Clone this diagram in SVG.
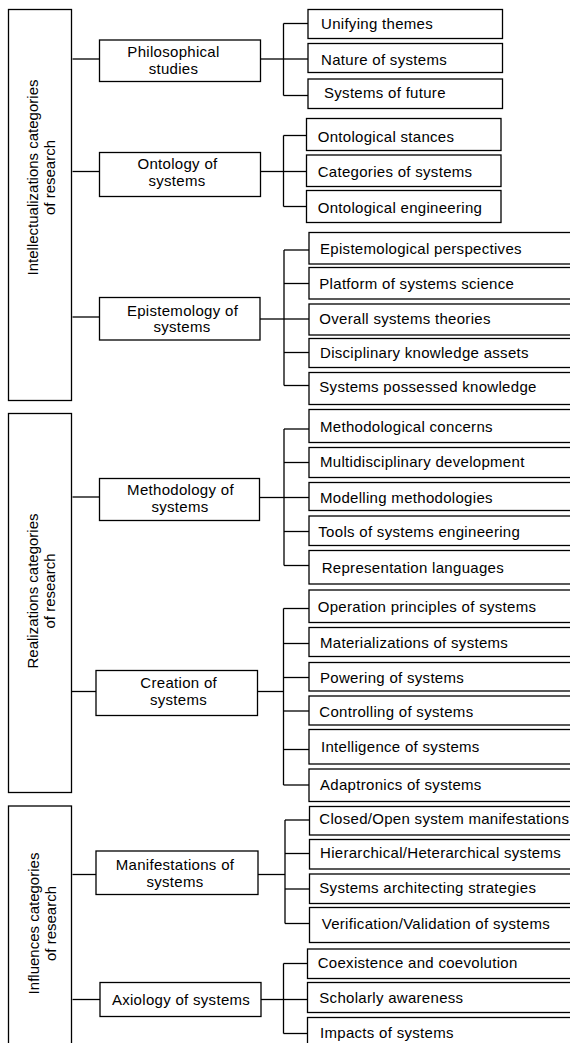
<svg xmlns="http://www.w3.org/2000/svg" width="570" height="1043" viewBox="0 0 570 1043">
<style>
rect{fill:#fff;stroke:#000;stroke-width:1.3}
.c line{stroke:#000;stroke-width:1.3}
text{font-family:"Liberation Sans",Arial,sans-serif;font-size:15px;fill:#000;letter-spacing:0.3px}
.m{text-anchor:middle}
.r{text-anchor:middle;letter-spacing:0}
</style>
<rect width="570" height="1043" style="stroke:none"/>
<g class="c" id="connectors">
<line x1="72.5" y1="59" x2="99.5" y2="59"/>
<line x1="72.5" y1="171.5" x2="99.5" y2="171.5"/>
<line x1="72.5" y1="317" x2="99.5" y2="317"/>
<line x1="72.5" y1="497" x2="99.5" y2="497"/>
<line x1="71.5" y1="691.5" x2="96" y2="691.5"/>
<line x1="72.5" y1="874.5" x2="96" y2="874.5"/>
<line x1="72.5" y1="999.5" x2="100" y2="999.5"/>
<line x1="260.5" y1="59" x2="283.5" y2="59"/>
<line x1="283.5" y1="23.5" x2="283.5" y2="95.5"/>
<line x1="283.5" y1="23.5" x2="308" y2="23.5"/>
<line x1="283.5" y1="59" x2="308" y2="59"/>
<line x1="283.5" y1="95.5" x2="308" y2="95.5"/>
<line x1="260.5" y1="171.5" x2="283.5" y2="171.5"/>
<line x1="283.5" y1="135.5" x2="283.5" y2="206.5"/>
<line x1="283.5" y1="135.5" x2="306.5" y2="135.5"/>
<line x1="283.5" y1="171.5" x2="306.5" y2="171.5"/>
<line x1="283.5" y1="206.5" x2="306.5" y2="206.5"/>
<line x1="260" y1="319" x2="284" y2="319"/>
<line x1="284" y1="250" x2="284" y2="385.5"/>
<line x1="284" y1="250" x2="309" y2="250"/>
<line x1="284" y1="283.5" x2="309" y2="283.5"/>
<line x1="284" y1="319" x2="309" y2="319"/>
<line x1="284" y1="352.5" x2="309" y2="352.5"/>
<line x1="284" y1="385.5" x2="309" y2="385.5"/>
<line x1="259.5" y1="497.5" x2="284" y2="497.5"/>
<line x1="284" y1="429" x2="284" y2="565.5"/>
<line x1="284" y1="429" x2="309" y2="429"/>
<line x1="284" y1="462.5" x2="309" y2="462.5"/>
<line x1="284" y1="497.5" x2="309" y2="497.5"/>
<line x1="284" y1="531.5" x2="309" y2="531.5"/>
<line x1="284" y1="565.5" x2="309" y2="565.5"/>
<line x1="257.5" y1="691.5" x2="283.5" y2="691.5"/>
<line x1="283.5" y1="608.5" x2="283.5" y2="785"/>
<line x1="283.5" y1="608.5" x2="309" y2="608.5"/>
<line x1="283.5" y1="643.5" x2="309" y2="643.5"/>
<line x1="283.5" y1="677.5" x2="309" y2="677.5"/>
<line x1="283.5" y1="711" x2="309" y2="711"/>
<line x1="283.5" y1="749.5" x2="309" y2="749.5"/>
<line x1="283.5" y1="785" x2="309" y2="785"/>
<line x1="258" y1="874.5" x2="285" y2="874.5"/>
<line x1="285" y1="820" x2="285" y2="923.5"/>
<line x1="285" y1="820" x2="309.5" y2="820"/>
<line x1="285" y1="853.5" x2="309.5" y2="853.5"/>
<line x1="285" y1="889" x2="309.5" y2="889"/>
<line x1="285" y1="923.5" x2="309.5" y2="923.5"/>
<line x1="261" y1="999.5" x2="283.5" y2="999.5"/>
<line x1="283.5" y1="963.5" x2="283.5" y2="1033.5"/>
<line x1="283.5" y1="963.5" x2="307.5" y2="963.5"/>
<line x1="283.5" y1="999.5" x2="307.5" y2="999.5"/>
<line x1="283.5" y1="1033.5" x2="307.5" y2="1033.5"/>
</g>
<g id="cat-intellectualizations"><rect x="8.5" y="9.5" width="63" height="391"/>
<text class="r" transform="translate(37.5,177.5) rotate(-90)">Intellectualizations categories</text>
<text class="r" transform="translate(54.5,177.5) rotate(-90)">of research</text></g>
<g id="cat-realizations"><rect x="8.5" y="413.5" width="63" height="379"/>
<text class="r" transform="translate(37.5,591) rotate(-90)">Realizations categories</text>
<text class="r" transform="translate(54.5,591) rotate(-90)">of research</text></g>
<g id="cat-influences"><rect x="8.5" y="806" width="63" height="250"/>
<text class="r" transform="translate(38.5,923.5) rotate(-90)">Influences categories</text>
<text class="r" transform="translate(55.5,923.5) rotate(-90)">of research</text></g>

<g id="philosophical"><rect x="99.5" y="40" width="161" height="41.5"/>
<text class="m" x="173.5" y="57.3">Philosophical</text><text class="m" x="173.5" y="74">studies</text></g>
<g id="ontology"><rect x="99.5" y="152.5" width="161" height="44"/>
<text class="m" x="177.5" y="169.3">Ontology of</text><text class="m" x="177" y="186.3">systems</text></g>
<g id="epistemology"><rect x="99.5" y="297.5" width="160.5" height="42.5"/>
<text class="m" x="182.5" y="315.7">Epistemology of</text><text class="m" x="182" y="332.3">systems</text></g>
<g id="methodology"><rect x="99.5" y="478.5" width="160" height="42"/>
<text class="m" x="180.5" y="495">Methodology of</text><text class="m" x="180" y="511.7">systems</text></g>
<g id="creation"><rect x="96" y="670.5" width="161.5" height="45"/>
<text class="m" x="178.7" y="688.3">Creation of</text><text class="m" x="178.5" y="705">systems</text></g>
<g id="manifestations"><rect x="96" y="851" width="162" height="43.5"/>
<text class="m" x="175" y="870">Manifestations of</text><text class="m" x="175" y="886.7">systems</text></g>
<g id="axiology"><rect x="100" y="982.5" width="161" height="34"/>
<text class="m" x="181" y="1005">Axiology of systems</text></g>

<g id="unifying"><rect x="308" y="9.5" width="194.5" height="29"/><text x="321" y="29">Unifying themes</text></g>
<g id="nature"><rect x="308" y="43.5" width="194.5" height="29"/><text x="321" y="65">Nature of systems</text></g>
<g id="future"><rect x="308" y="79" width="194.5" height="29.5"/><text x="324" y="98.3">Systems of future</text></g>
<g id="stances"><rect x="306.5" y="118.5" width="194.5" height="32"/><text x="317.7" y="142.3">Ontological stances</text></g>
<g id="categories"><rect x="306.5" y="155" width="194.5" height="31.5"/><text x="317.7" y="176.7">Categories of systems</text></g>
<g id="engineering"><rect x="306.5" y="190.5" width="194.5" height="32"/><text x="317.7" y="212.7">Ontological engineering</text></g>
<g id="perspectives"><rect x="309" y="232.5" width="270" height="31.5"/><text x="320" y="254.3">Epistemological perspectives</text></g>
<g id="platform"><rect x="309" y="267.5" width="270" height="31.5"/><text x="319.3" y="289">Platform of systems science</text></g>
<g id="overall"><rect x="309" y="304" width="270" height="31"/><text x="319.3" y="324.3">Overall systems theories</text></g>
<g id="disciplinary"><rect x="309" y="338.5" width="270" height="29"/><text x="320" y="357.7">Disciplinary knowledge assets</text></g>
<g id="possessed"><rect x="309" y="372.5" width="270" height="32"/><text x="319.3" y="392.3">Systems possessed knowledge</text></g>
<g id="concerns"><rect x="309" y="409.5" width="270" height="33"/><text x="320" y="432.3">Methodological concerns</text></g>
<g id="multidisciplinary"><rect x="309" y="447.5" width="270" height="30"/><text x="320" y="466.7">Multidisciplinary development</text></g>
<g id="modelling"><rect x="309" y="482.5" width="270" height="28"/><text x="320" y="503.3">Modelling methodologies</text></g>
<g id="tools"><rect x="309" y="516" width="270" height="29.5"/><text x="318.3" y="536.7">Tools of systems engineering</text></g>
<g id="representation"><rect x="309" y="550.5" width="270" height="33.5"/><text x="321.7" y="573.3">Representation languages</text></g>
<g id="operation"><rect x="309" y="590" width="270" height="32.5"/><text x="317.7" y="611.7">Operation principles of systems</text></g>
<g id="materializations"><rect x="309" y="627.5" width="270" height="29"/><text x="320" y="648.3">Materializations of systems</text></g>
<g id="powering"><rect x="309" y="662.5" width="270" height="28.5"/><text x="320" y="683.3">Powering of systems</text></g>
<g id="controlling"><rect x="309" y="696" width="270" height="29"/><text x="319.3" y="716.7">Controlling of systems</text></g>
<g id="intelligence"><rect x="309" y="729.5" width="270" height="34.5"/><text x="321" y="751.7">Intelligence of systems</text></g>
<g id="adaptronics"><rect x="309" y="769" width="270" height="32.5"/><text x="320" y="790">Adaptronics of systems</text></g>
<g id="closedopen"><rect x="309.5" y="806.5" width="270" height="28.5"/><text x="319.3" y="824.3">Closed/Open system manifestations</text></g>
<g id="hierarchical"><rect x="309.5" y="839.5" width="270" height="29.5"/><text x="320" y="858.3">Hierarchical/Heterarchical systems</text></g>
<g id="architecting"><rect x="309.5" y="874" width="270" height="29.5"/><text x="319.3" y="893.3">Systems architecting strategies</text></g>
<g id="verification"><rect x="309.5" y="907.5" width="270" height="35"/><text x="321.7" y="929.3">Verification/Validation of systems</text></g>
<g id="coexistence"><rect x="307.5" y="949" width="270" height="29.5"/><text x="317.7" y="968.3">Coexistence and coevolution</text></g>
<g id="scholarly"><rect x="307.5" y="982.5" width="270" height="30"/><text x="319.3" y="1003.3">Scholarly awareness</text></g>
<g id="impacts"><rect x="307.5" y="1017.5" width="270" height="40"/><text x="320" y="1038.3">Impacts of systems</text></g>
</svg>
